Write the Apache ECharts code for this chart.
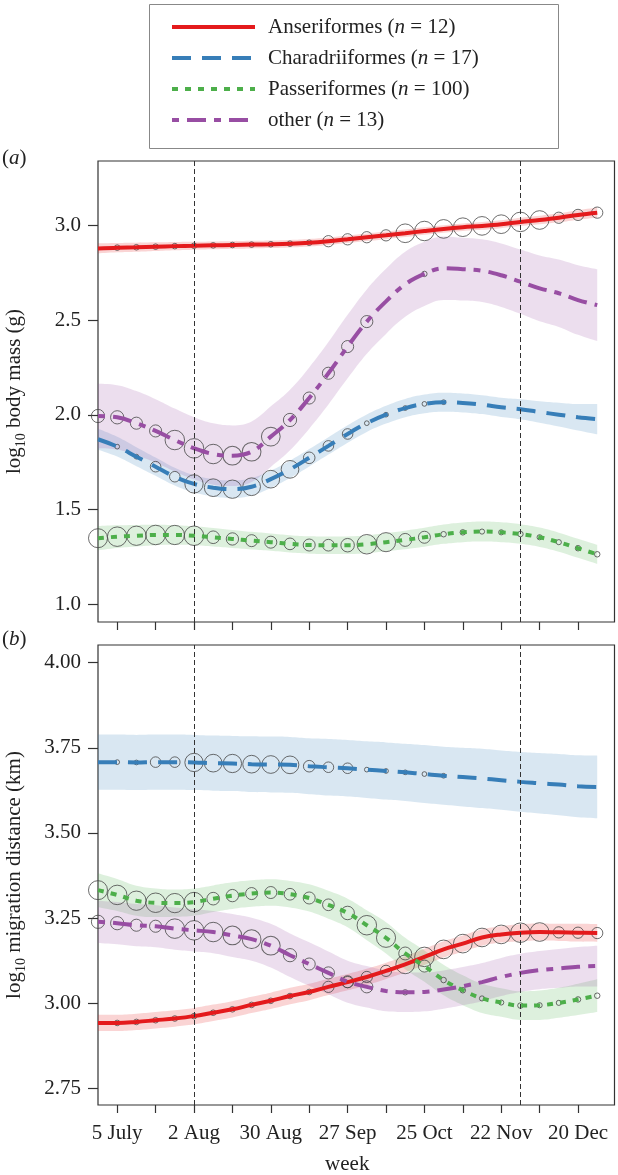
<!DOCTYPE html>
<html><head><meta charset="utf-8">
<script src="https://cdn.jsdelivr.net/npm/echarts@6/dist/echarts.min.js"></script>
<style>html,body{margin:0;padding:0;background:#fff}#c{width:618px;height:1175px}</style>
</head><body><div id="c"></div>
<script>
// ---- data ----
const weeks = [0,1,2,3,4,5,6,7,8,9,10,11,12,13,14,15,16,17,18,19,20,21,22,23,24,25,26]; // week 0 = 28 June
const tickWeeks = [1,3,5,7,9,11,13,15,17,19,21,23,25];
const labelWeeks = [1,5,9,13,17,21,25];
const tickLabels = ['5 July','2 Aug','30 Aug','27 Sep','25 Oct','22 Nov','20 Dec'];
const refWeeks = [5,22];
const groups = ['Anseriformes','Charadriiformes','Passeriformes','other'];
const groupN = [12,17,100,13];
const massTicks = [1.0,1.5,2.0,2.5,3.0];
const distTicks = [2.75,3.00,3.25,3.50,3.75,4.00];

// (a) log10 body mass (g): fitted mean and half-width of band
const ansMass = [2.880,2.884,2.886,2.889,2.892,2.894,2.896,2.898,2.900,2.902,2.905,2.910,2.918,2.928,2.939,2.949,2.960,2.972,2.983,2.992,2.999,3.008,3.020,3.030,3.042,3.057,3.069];
const chaMass = [1.871,1.832,1.779,1.726,1.673,1.635,1.615,1.607,1.620,1.660,1.712,1.773,1.836,1.899,1.956,2.001,2.036,2.058,2.067,2.063,2.054,2.040,2.030,2.015,2.001,1.987,1.977];
const pasMass = [1.348,1.356,1.361,1.365,1.365,1.361,1.353,1.344,1.335,1.327,1.318,1.312,1.311,1.311,1.316,1.327,1.339,1.353,1.369,1.379,1.383,1.379,1.370,1.353,1.327,1.295,1.263];
const othMass = [1.994,1.987,1.956,1.915,1.867,1.823,1.793,1.784,1.805,1.885,1.973,2.089,2.220,2.361,2.493,2.600,2.690,2.745,2.775,2.770,2.762,2.738,2.704,2.669,2.643,2.607,2.580];
const ansMassHW = [0.027,0.025,0.024,0.023,0.022,0.021,0.021,0.020,0.020,0.020,0.020,0.020,0.020,0.020,0.020,0.020,0.020,0.020,0.020,0.020,0.021,0.021,0.022,0.023,0.024,0.025,0.027];
const chaMassHW = [0.055,0.052,0.050,0.048,0.047,0.046,0.046,0.046,0.046,0.046,0.046,0.046,0.046,0.046,0.046,0.047,0.048,0.049,0.050,0.050,0.050,0.051,0.053,0.057,0.063,0.070,0.080];
const pasMassHW = [0.064,0.060,0.057,0.054,0.052,0.050,0.049,0.048,0.047,0.046,0.046,0.046,0.046,0.046,0.047,0.048,0.049,0.050,0.051,0.052,0.053,0.053,0.052,0.051,0.050,0.050,0.050];
const othMassHW = [0.170,0.170,0.170,0.168,0.166,0.164,0.162,0.160,0.160,0.160,0.160,0.162,0.165,0.168,0.170,0.172,0.172,0.170,0.168,0.166,0.166,0.168,0.170,0.174,0.178,0.184,0.190];

// (b) log10 migration distance (km)
const ansDist = [2.942,2.942,2.945,2.950,2.955,2.962,2.972,2.982,2.995,3.007,3.021,3.033,3.048,3.062,3.077,3.095,3.114,3.136,3.158,3.175,3.193,3.202,3.207,3.209,3.208,3.207,3.206];
const chaDist = [3.708,3.708,3.707,3.708,3.708,3.707,3.705,3.704,3.702,3.701,3.700,3.696,3.693,3.690,3.686,3.682,3.678,3.673,3.668,3.664,3.660,3.655,3.650,3.646,3.642,3.637,3.635];
const pasDist = [3.332,3.318,3.301,3.295,3.294,3.297,3.307,3.316,3.322,3.325,3.320,3.309,3.289,3.265,3.229,3.192,3.146,3.109,3.068,3.038,3.014,3.002,2.993,2.994,3.001,3.011,3.022];
const othDist = [3.239,3.235,3.229,3.226,3.219,3.214,3.209,3.199,3.188,3.169,3.141,3.115,3.089,3.063,3.048,3.036,3.032,3.033,3.040,3.050,3.062,3.077,3.089,3.097,3.102,3.107,3.109];
const ansDistHW = [0.024,0.024,0.024,0.024,0.024,0.024,0.024,0.024,0.024,0.024,0.024,0.024,0.024,0.024,0.024,0.024,0.024,0.024,0.024,0.024,0.024,0.024,0.025,0.025,0.025,0.026,0.026];
const chaDistHW = [0.081,0.081,0.081,0.081,0.081,0.081,0.081,0.081,0.082,0.082,0.082,0.082,0.083,0.083,0.083,0.084,0.084,0.085,0.085,0.086,0.087,0.087,0.088,0.089,0.090,0.091,0.092];
const pasDistHW = [0.050,0.047,0.044,0.042,0.040,0.040,0.039,0.039,0.039,0.039,0.039,0.040,0.041,0.042,0.044,0.046,0.046,0.046,0.045,0.044,0.043,0.042,0.042,0.043,0.044,0.046,0.048];
const othDistHW = [0.062,0.062,0.062,0.062,0.062,0.062,0.062,0.063,0.063,0.064,0.064,0.064,0.063,0.062,0.061,0.060,0.058,0.057,0.056,0.056,0.056,0.056,0.056,0.056,0.057,0.058,0.060];

// individuals contributing per week (circle size)
const ansCount = [0,1,1,1,1,1,1,1,1,1,1,1,4,4,4,4,11,12,11,11,11,11,12,11,4,4,4];
const chaCount = [0,1,1,5,5,15,14,15,14,14,14,6,5,5,1,1,1,1,1,0,0,0,0,0,0,0,0];
const pasCount = [95,100,98,100,98,100,42,40,38,38,36,38,36,48,100,96,44,38,8,8,7,7,8,7,7,8,8];
const othCountMass = [6,6,5,5,13,13,13,12,12,12,6,5,5,5,5,0,0,1,0,0,0,0,0,0,0,0,0];
const othCountDist = [6,6,5,5,13,13,13,12,12,12,6,5,5,5,5,0,1,0,0,0,0,0,0,0,0,0,0];

// ---- styling ----
const FONT = '"Liberation Serif","Times New Roman",serif';
const TXT = '#222';
const colors = ['#E41A1C','#377EB8','#4DAF4A','#984EA3'];
const dashes = ['solid',[19,11],[6,7],[7,8,19,8]];

const chart = echarts.init(document.getElementById('c'), null, {renderer:'canvas'});

function hexA(hex, a){
  const r=parseInt(hex.slice(1,3),16), g=parseInt(hex.slice(3,5),16), b=parseInt(hex.slice(5,7),16);
  return `rgba(${r},${g},${b},${a})`;
}

const series = [];
function addGroup(ax, gi, mean, hw, counts){
  const key = 'band'+ax+'_'+gi;
  // value column first so that the stack is applied to y, week in column 1
  series.push({
    type:'line', name:key+'lo', xAxisIndex:ax, yAxisIndex:ax, stack:key, smooth:0.4,
    encode:{x:1, y:0},
    symbol:'none', silent:true, z:1, lineStyle:{opacity:0},
    data: weeks.map((w,i)=>[mean[i]-hw[i], w])
  });
  series.push({
    type:'line', name:key+'hi', xAxisIndex:ax, yAxisIndex:ax, stack:key, smooth:0.4,
    encode:{x:1, y:0},
    symbol:'none', silent:true, z:1, lineStyle:{opacity:0},
    areaStyle:{color:hexA(colors[gi],0.27)},
    data: weeks.map((w,i)=>[2*hw[i], w])
  });
  series.push({
    type:'scatter', name:'pts'+ax+'_'+gi, xAxisIndex:ax, yAxisIndex:ax, z:3, silent:true,
    symbol:'circle',
    symbolSize:(v)=>19.5*Math.sqrt(v[2]/groupN[gi]),
    itemStyle:{color:'rgba(255,255,255,0)', borderColor:'#474747', borderWidth:1},
    data: weeks.map((w,i)=>[w, mean[i], counts[i]]).filter(d=>d[2]>0)
  });
  series.push({
    type:'line', name:groups[gi], xAxisIndex:ax, yAxisIndex:ax, smooth:0.4, symbol:'none', z:4,
    lineStyle:{color:colors[gi], width:4, type:dashes[gi], cap:'butt'},
    itemStyle:{color:colors[gi]},
    data: weeks.map((w,i)=>[w, mean[i]])
  });
}
addGroup(0,0,ansMass,ansMassHW,ansCount);
addGroup(0,1,chaMass,chaMassHW,chaCount);
addGroup(0,2,pasMass,pasMassHW,pasCount);
addGroup(0,3,othMass,othMassHW,othCountMass);
addGroup(1,0,ansDist,ansDistHW,ansCount);
addGroup(1,1,chaDist,chaDistHW,chaCount);
addGroup(1,2,pasDist,pasDistHW,pasCount);
addGroup(1,3,othDist,othDistHW,othCountDist);

[0,1].forEach(ax=>{
  series.push({
    type:'line', name:'ref'+ax, xAxisIndex:ax, yAxisIndex:ax, data:[], z:6, silent:true,
    markLine:{silent:true, symbol:'none', label:{show:false}, z:6,
      lineStyle:{color:'#333', width:1, type:[5,3]},
      data: refWeeks.map(w=>({xAxis:w}))}
  });
});

function xAxis(gi, showLabels){
  return {
    type:'value', gridIndex:gi, min:0, max:26.9,
    splitLine:{show:false}, axisLine:{show:false},
    axisTick:{show:true, customValues:tickWeeks, length:8, lineStyle:{color:'#333', width:1.2}},
    axisLabel:{show:showLabels, customValues:labelWeeks, margin:18,
      fontFamily:FONT, fontSize:21, color:TXT,
      formatter:(v)=>tickLabels[labelWeeks.indexOf(Math.round(v))]},
    name: showLabels ? 'week' : '', nameLocation:'middle', nameGap:49,
    nameTextStyle:{fontFamily:FONT, fontSize:21, color:TXT, padding:[0,18,0,0]}
  };
}
function yAxis(gi, min, max, ticks, dec, name){
  return {
    type:'value', gridIndex:gi, min:min, max:max,
    splitLine:{show:false}, axisLine:{show:false},
    axisTick:{show:true, customValues:ticks, length:10, lineStyle:{color:'#333', width:1.2}},
    axisLabel:{customValues:ticks, margin:17, fontFamily:FONT, fontSize:21, color:TXT,
      formatter:(v)=>v.toFixed(dec)},
    name:name, nameLocation:'middle', nameRotate:90, nameGap:70,
    nameTextStyle:{fontFamily:FONT, fontSize:21, color:TXT, lineHeight:28,
      rich:{s:{fontFamily:FONT, fontSize:14, color:TXT, lineHeight:14, verticalAlign:'bottom'}}}
  };
}

const option = {
  backgroundColor:'#fff',
  animation:false,
  grid:[
    {left:98, right:3.5, top:161, height:461, show:true, borderColor:'#333', borderWidth:1.2, backgroundColor:'transparent', outerBoundsMode:'none', containLabel:false},
    {left:98, right:3.5, top:645, height:460, show:true, borderColor:'#333', borderWidth:1.2, backgroundColor:'transparent', outerBoundsMode:'none', containLabel:false}
  ],
  xAxis:[xAxis(0,false), xAxis(1,true)],
  yAxis:[
    yAxis(0,0.905,3.342,massTicks,1,'log{s|10} body mass (g)'),
    yAxis(1,2.701,4.052,distTicks,2,'log{s|10} migration distance (km)')
  ],
  legend:{
    data:groups, orient:'vertical', left:170, top:15, padding:0,
    itemWidth:83, itemHeight:14, itemGap:7,
    lineStyle:{width:4},
    itemStyle:{opacity:0, color:'rgba(0,0,0,0)', borderWidth:0},
    selectedMode:false,
    formatter:(name)=>`{t|${name} (}{i|n}{t| = ${groupN[groups.indexOf(name)]})}`,
    textStyle:{fontFamily:FONT, fontSize:21, color:TXT, lineHeight:24, padding:[0,0,0,8],
      rich:{t:{fontFamily:FONT, fontSize:21, color:TXT, lineHeight:24},
            i:{fontFamily:FONT, fontSize:21, fontStyle:'italic', color:TXT, lineHeight:24}}}
  },
  graphic:[
    {type:'rect', left:147, top:2, shape:{width:409, height:144}, style:{fill:'none', stroke:'#888', lineWidth:1}, silent:true},
    {type:'text', left:2, top:148, style:{text:'({i|a})', font:'21px '+FONT, fill:TXT,
      rich:{i:{fontFamily:FONT, fontSize:21, fontStyle:'italic', fill:TXT}}}},
    {type:'text', left:2, top:629, style:{text:'({i|b})', font:'21px '+FONT, fill:TXT,
      rich:{i:{fontFamily:FONT, fontSize:21, fontStyle:'italic', fill:TXT}}}}
  ],
  series:series
};
chart.setOption(option);
</script></body></html>
